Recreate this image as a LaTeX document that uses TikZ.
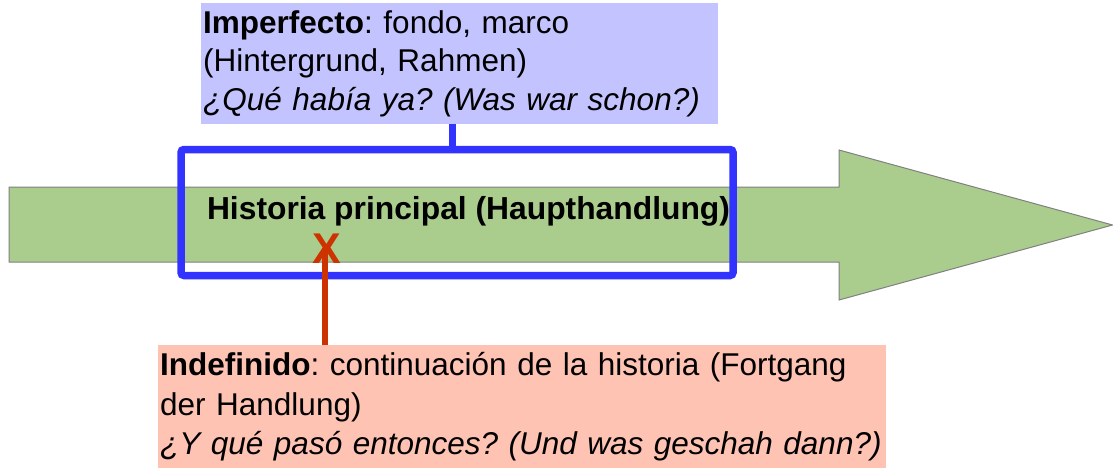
\documentclass[tikz,border=0pt]{standalone}
\usepackage{fontspec}
\setmainfont{Liberation Sans}
\frenchspacing
\definecolor{arrowgreen}{RGB}{170,205,142}
\definecolor{arrowedge}{RGB}{128,128,128}
\definecolor{frameblue}{RGB}{51,51,255}
\definecolor{impfill}{RGB}{195,195,255}
\definecolor{indfill}{RGB}{255,195,180}
\definecolor{markred}{RGB}{204,51,0}
\tikzset{
  bigarrow/.style={fill=arrowgreen, draw=arrowedge, line width=1pt},
  frame/.style={draw=frameblue, line width=7.5pt, rounded corners=3pt, minimum width=552pt, minimum height=126pt, inner sep=0pt},
  infobox/.style={anchor=north west, inner xsep=2pt, inner ysep=0pt, align=left, font=\fontsize{31.5}{38.5}\selectfont\frenchspacing},
  maintext/.style={font=\bfseries\fontsize{31.8}{38}\selectfont, inner sep=0pt, anchor=base},
  xmark/.style={font=\bfseries\fontsize{43}{50}\selectfont, text=markred, inner sep=0pt},
  blueline/.style={draw=frameblue, line width=6.5pt},
  redline/.style={draw=markred, line width=6pt},
}
\begin{document}
\begin{tikzpicture}[x=1pt,y=-1pt]
\useasboundingbox (0,0) rectangle (1113,468);
% main arrow
\draw[bigarrow] (9,187) -- (839,187) -- (839,150) -- (1112.5,225) -- (839,300) -- (839,262) -- (9,262) -- cycle;
% frame
\node[frame] (frame) at (457,212.5) {};
\node[maintext] (main) at (468.5,219.5) {Historia principal (Haupthandlung)};
% X mark
\node[xmark, anchor=base] (xm) at (327,263) {X};
\coordinate (xc) at (325,248);
% boxes
\node[infobox, fill=impfill, minimum width=517pt, minimum height=121pt, text width=513pt] (imp) at (201,3)
  {\textbf{Imperfecto}: fondo, marco\\(Hintergrund, Rahmen)\\\textit{¿Qué había ya? (Was war schon?)}};
\node[infobox, fill=indfill, minimum width=728pt, minimum height=123pt, text width=724pt,
      font=\fontsize{31.5}{39.5}\selectfont\frenchspacing] (ind) at (158,345)
  {\textbf{Indefinido}: continuación de la historia (Fortgang\\der Handlung)\\\textit{¿Y qué pasó entonces? (Und was geschah dann?)}};
% connectors
\draw[blueline] ([xshift=-7pt]imp.south) -- ([xshift=-7pt]imp.south |- frame.north);
\draw[redline] (xc) -- (xc |- ind.north);
\end{tikzpicture}
\end{document}
